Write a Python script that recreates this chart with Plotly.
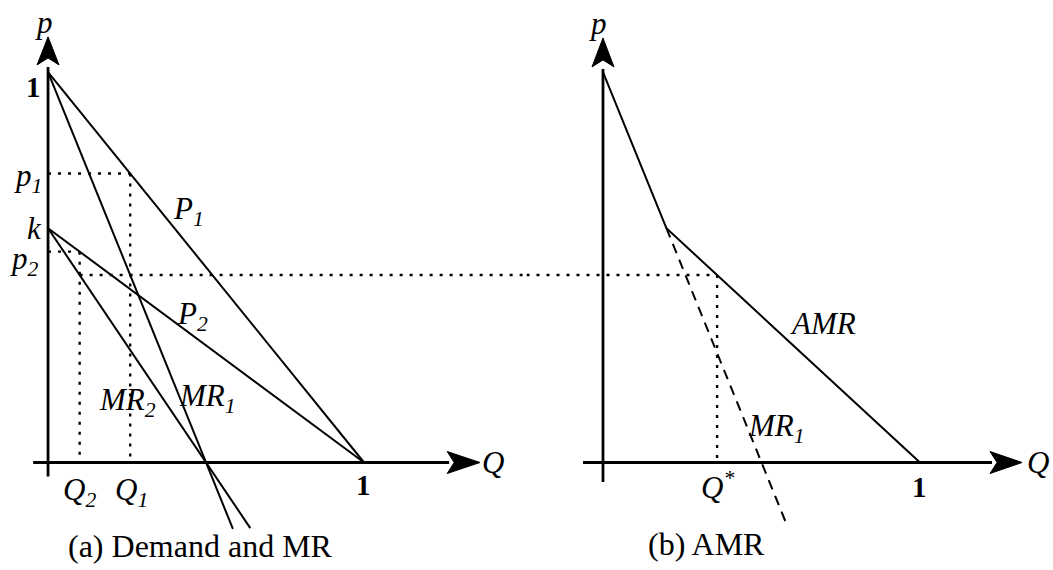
import plotly.graph_objects as go

# ---- model values (Q = quantity, p = price) ----
k = 0.6                      # intercept of the second demand curve
Q2, Q1, Q_star = 0.1, 0.26, 0.36
p1_level, p2_level, mr_level = 0.74, 0.54, 0.48

# demand and marginal revenue curves, panel (a)
P1_Q, P1_p = [0, 1], [1, 0]
P2_Q, P2_p = [0, 1], [0.6, 0]
MR1_Q, MR1_p = [0, 0.585], [1, -0.17]
MR2_Q, MR2_p = [0, 0.64], [0.6, -0.168]

# aggregate marginal revenue, panel (b)
AMR_Q, AMR_p = [0, 0.2, 1], [1, 0.6, 0]
MR1b_Q, MR1b_p = [0.2, 0.58], [0.6, -0.16]

W, H = 1053, 570
FONT = "Liberation Serif"
BLACK = "#000000"

# axis windows (data units) for the two panels
XR_A = [-0.152, 1.514]
XR_B = [-0.2413, 1.4196]
YR = [-0.2753, 1.1844]

fig = go.Figure()


def seg(q, p, xa, ya, dash="solid", width=2.0):
    fig.add_trace(go.Scatter(x=q, y=p, mode="lines", xaxis=xa, yaxis=ya,
                             line=dict(color=BLACK, width=width, dash=dash),
                             hoverinfo="skip"))


DOT = "3px,7px"
DASH = "10px,7px"

# ---- panel (a) ----
seg(P1_Q, P1_p, "x", "y")
seg(P2_Q, P2_p, "x", "y")
seg(MR1_Q, MR1_p, "x", "y")
seg(MR2_Q, MR2_p, "x", "y")
seg([0, Q1], [p1_level, p1_level], "x", "y", DOT, 2.4)
seg([Q1, Q1], [p1_level, 0], "x", "y", DOT, 2.4)
seg([0, Q2], [p2_level, p2_level], "x", "y", DOT, 2.4)
seg([Q2, Q2], [p2_level, 0], "x", "y", DOT, 2.4)
seg([Q2, XR_A[1]], [mr_level, mr_level], "x", "y", DOT, 2.4)

# ---- panel (b) ----
seg(AMR_Q, AMR_p, "x2", "y2")
seg(MR1b_Q, MR1b_p, "x2", "y2", DASH, 2.0)
seg([XR_B[0], Q_star], [mr_level, mr_level], "x2", "y2", DOT, 2.4)
seg([Q_star, Q_star], [mr_level, 0], "x2", "y2", DOT, 2.4)

shapes = []


def scales(xr, frac):
    sx = W * frac / (xr[1] - xr[0])           # px per Q unit
    sy = H / (YR[1] - YR[0])                  # px per p unit
    return sx, sy


def axis_pair(xref, yref, xr, frac, x_from, x_base, x_tip, y_from, y_base, y_tip):
    sx, sy = scales(xr, frac)
    line = dict(color=BLACK, width=2.8)
    shapes.append(dict(type="line", xref=xref, yref=yref, x0=x_from, y0=0,
                       x1=x_base + 2 / sx, y1=0, line=line))
    shapes.append(dict(type="line", xref=xref, yref=yref, x0=0, y0=y_from,
                       x1=0, y1=y_base - 2 / sy, line=line))
    hw, notch = 11, 7
    # horizontal arrow head
    L = (x_tip - x_base) * sx
    px = [x_tip, x_tip - L / sx, x_tip - (L - notch) / sx, x_tip - L / sx]
    py = [0, hw / sy, 0, -hw / sy]
    path = "M{} {} L{} {} L{} {} L{} {} Z".format(px[0], py[0], px[1], py[1],
                                                  px[2], py[2], px[3], py[3])
    shapes.append(dict(type="path", xref=xref, yref=yref, path=path,
                       fillcolor=BLACK, line=dict(color=BLACK, width=1)))
    # vertical arrow head
    L = (y_tip - y_base) * sy
    qy = [y_tip, y_tip - L / sy, y_tip - (L - notch) / sy, y_tip - L / sy]
    qx = [0, hw / sx, 0, -hw / sx]
    path = "M{} {} L{} {} L{} {} L{} {} Z".format(qx[0], qy[0], qx[1], qy[1],
                                                  qx[2], qy[2], qx[3], qy[3])
    shapes.append(dict(type="path", xref=xref, yref=yref, path=path,
                       fillcolor=BLACK, line=dict(color=BLACK, width=1)))


axis_pair("x", "y", XR_A, 0.5, -0.047, 1.263, 1.367, -0.036, 1.018, 1.09)
axis_pair("x2", "y2", XR_B, 0.5, -0.063, 1.221, 1.322, -0.05, 1.013, 1.087)

ann = []


def label(text, q, p, xref="x", yref="y", size=31, italic=True, bold=False):
    if italic:
        text = "<i>" + text + "</i>"
    if bold:
        text = "<b>" + text + "</b>"
    ann.append(dict(text=text, x=q, y=p, xref=xref, yref=yref, showarrow=False,
                    xanchor="center", yanchor="middle",
                    font=dict(family=FONT, size=size, color=BLACK)))


# panel (a) labels
label("p", -0.013, 1.128)
label("1", -0.045, 0.962, italic=False, bold=True, size=29)
label("p<sub>1</sub>", -0.063, 0.729)
label("k", -0.044, 0.598)
label("p<sub>2</sub>", -0.073, 0.516)
label("P<sub>1</sub>", 0.443, 0.644)
label("P<sub>2</sub>", 0.456, 0.375)
label("MR<sub>2</sub>", 0.253, 0.155)
label("MR<sub>1</sub>", 0.506, 0.165)
label("Q<sub>2</sub>", 0.098, -0.076)
label("Q<sub>1</sub>", 0.263, -0.076)
label("1", 0.997, -0.058, italic=False, bold=True, size=29)
label("Q", 1.408, 0.001)
label("(a) Demand and MR", 0.481, -0.214, italic=False, size=32)

# panel (b) labels
label("p", -0.016, 1.125, "x2", "y2")
label("AMR", 0.694, 0.355, "x2", "y2")
label("MR<sub>1</sub>", 0.546, 0.088, "x2", "y2")
label("Q<sup>*</sup>", 0.36, -0.058, "x2", "y2")
label("1", 1.0, -0.063, "x2", "y2", italic=False, bold=True, size=29)
label("Q", 1.372, 0.001, "x2", "y2")
label("(b) AMR", 0.325, -0.209, "x2", "y2", italic=False, size=32)

hidden = dict(visible=False, fixedrange=True, showgrid=False, zeroline=False)
fig.update_layout(
    width=W, height=H,
    margin=dict(l=0, r=0, t=0, b=0, pad=0),
    paper_bgcolor="white", plot_bgcolor="white",
    showlegend=False,
    xaxis=dict(domain=[0, 0.5], range=XR_A, anchor="y", **hidden),
    yaxis=dict(domain=[0, 1], range=YR, anchor="x", **hidden),
    xaxis2=dict(domain=[0.5, 1], range=XR_B, anchor="y2", **hidden),
    yaxis2=dict(domain=[0, 1], range=YR, anchor="x2", **hidden),
    shapes=shapes,
    annotations=ann,
)

fig.write_html("out.html")
